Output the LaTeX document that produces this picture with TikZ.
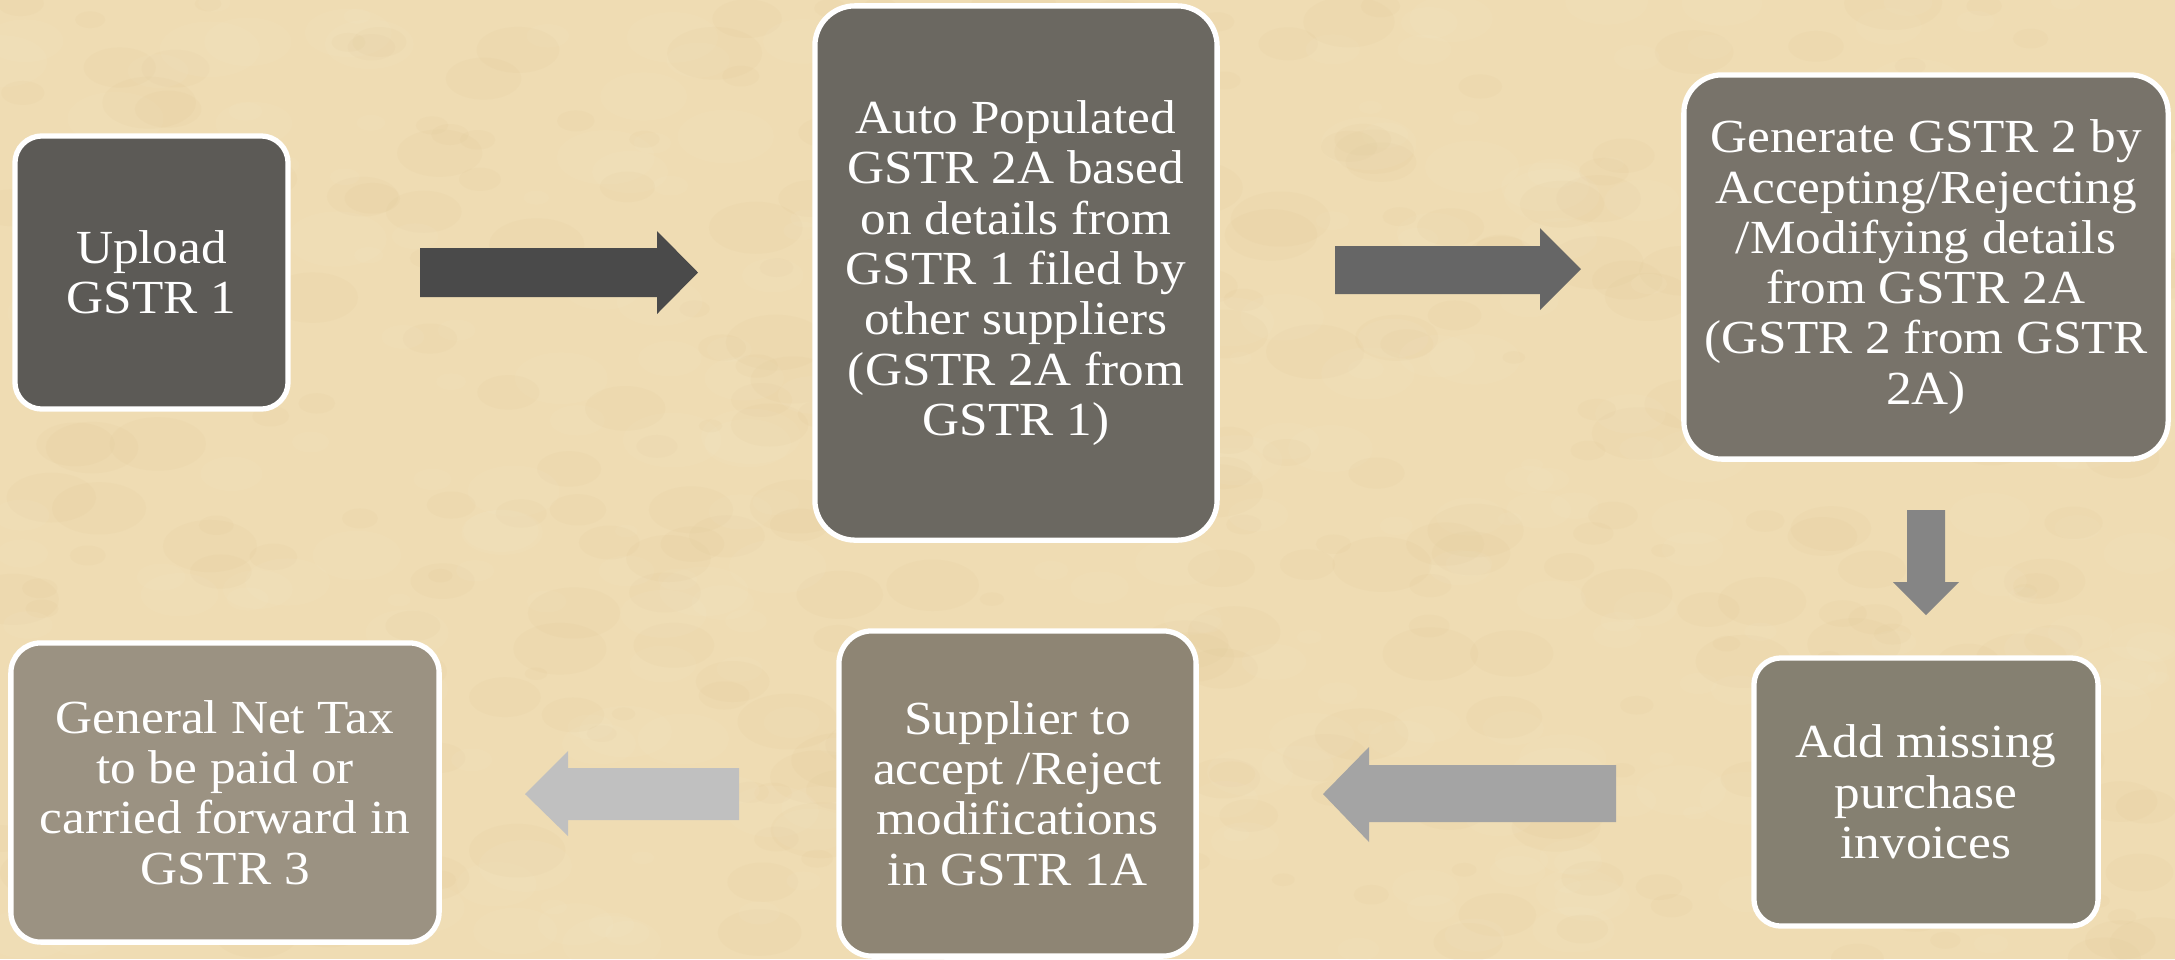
\documentclass[tikz,border=0pt]{standalone}
\usepackage{fontspec}
\setmainfont[FakeStretch=1.08]{Liberation Serif}
\usetikzlibrary{calc}
\definecolor{bg}{HTML}{EFDCB3}
\definecolor{bgdark}{HTML}{DDC28D}
\definecolor{bglight}{HTML}{F8EDD2}
\definecolor{cA}{HTML}{5C5A56}
\definecolor{cB}{HTML}{6B6861}
\definecolor{cC}{HTML}{78736A}
\definecolor{cD}{HTML}{858071}
\definecolor{cE}{HTML}{8E8574}
\definecolor{cF}{HTML}{9B9282}
\definecolor{aA}{HTML}{4A4A4A}
\definecolor{aB}{HTML}{666666}
\definecolor{aC}{HTML}{858585}
\definecolor{aD}{HTML}{A4A4A4}
\definecolor{aE}{HTML}{C0C0C0}
\newcommand\bxfont{\fontsize{13.5}{14.3}\selectfont}
\begin{document}
\begin{tikzpicture}[x=0.01cm,y=-0.01cm,
  box/.style={draw=white, line width=1.5pt, align=center, text=white, font=\bxfont, inner sep=0pt}]
\fill[bg] (0,0) rectangle (2175,959);
\useasboundingbox (0,0) rectangle (2175,959);
\begin{scope}
\clip (0,0) rectangle (2175,959);
\pgfmathsetseed{11}
\foreach \i in {1,...,700}{
  \pgfmathsetmacro\xx{rnd*2175}
  \pgfmathsetmacro\yy{rnd*959}
  \pgfmathsetmacro\rr{6+rnd*22}
  \pgfmathsetmacro\ss{rnd}
  \ifdim\ss pt<0.5pt \def\tc{bgdark}\else\def\tc{bglight}\fi
  \fill[\tc, opacity=0.09] (\xx,\yy) ellipse [x radius=\rr*1.8, y radius=\rr];
}
\end{scope}

% boxes
\node[box, fill=cA, minimum width=2.73cm, minimum height=2.73cm, rounded corners=7.7pt] (n1) at (151.5,272.5) {Upload\\GSTR 1};
\node[box, fill=cB, minimum width=4.02cm, minimum height=5.34cm, rounded corners=11.4pt] (n2) at (1016,273) {Auto Populated\\GSTR 2A based\\on details from\\GSTR 1 filed by\\other suppliers\\(GSTR 2A from\\GSTR 1)};
\node[box, fill=cC, minimum width=4.84cm, minimum height=3.84cm, rounded corners=10.8pt] (n3) at (1926,267) {Generate GSTR 2 by\\Accepting/Rejecting\\/Modifying details\\from GSTR 2A\\(GSTR 2 from GSTR\\2A)};
\node[box, fill=cD, minimum width=3.44cm, minimum height=2.68cm, rounded corners=7.7pt] (n4) at (1926,792) {Add missing\\purchase\\invoices};
\node[box, fill=cE, minimum width=3.57cm, minimum height=3.25cm, rounded corners=9.4pt] (n5) at (1017.5,793.5) {Supplier to\\accept /Reject\\modifications\\in GSTR 1A};
\node[box, fill=cF, minimum width=4.28cm, minimum height=2.99cm, rounded corners=8.5pt] (n6) at (225,792.5) {General Net Tax\\to be paid or\\carried forward in\\GSTR 3};

% block arrows
\fill[aA] (420,248) -- (657,248) -- (657,231) -- (698,272.5) -- (657,314) -- (657,297) -- (420,297) -- cycle;
\fill[aB] (1335,246) -- (1540,246) -- (1540,228) -- (1581,269) -- (1540,310) -- (1540,294) -- (1335,294) -- cycle;
\fill[aC] (1907,510) -- (1945,510) -- (1945,582) -- (1959,582) -- (1926,615) -- (1893,582) -- (1907,582) -- cycle;
\fill[aD] (1616,765) -- (1369,765) -- (1369,747) -- (1323,794) -- (1369,842) -- (1369,822) -- (1616,822) -- cycle;
\fill[aE] (739,768) -- (568,768) -- (568,751) -- (525,794) -- (568,836) -- (568,820) -- (739,820) -- cycle;
\end{tikzpicture}
\end{document}
